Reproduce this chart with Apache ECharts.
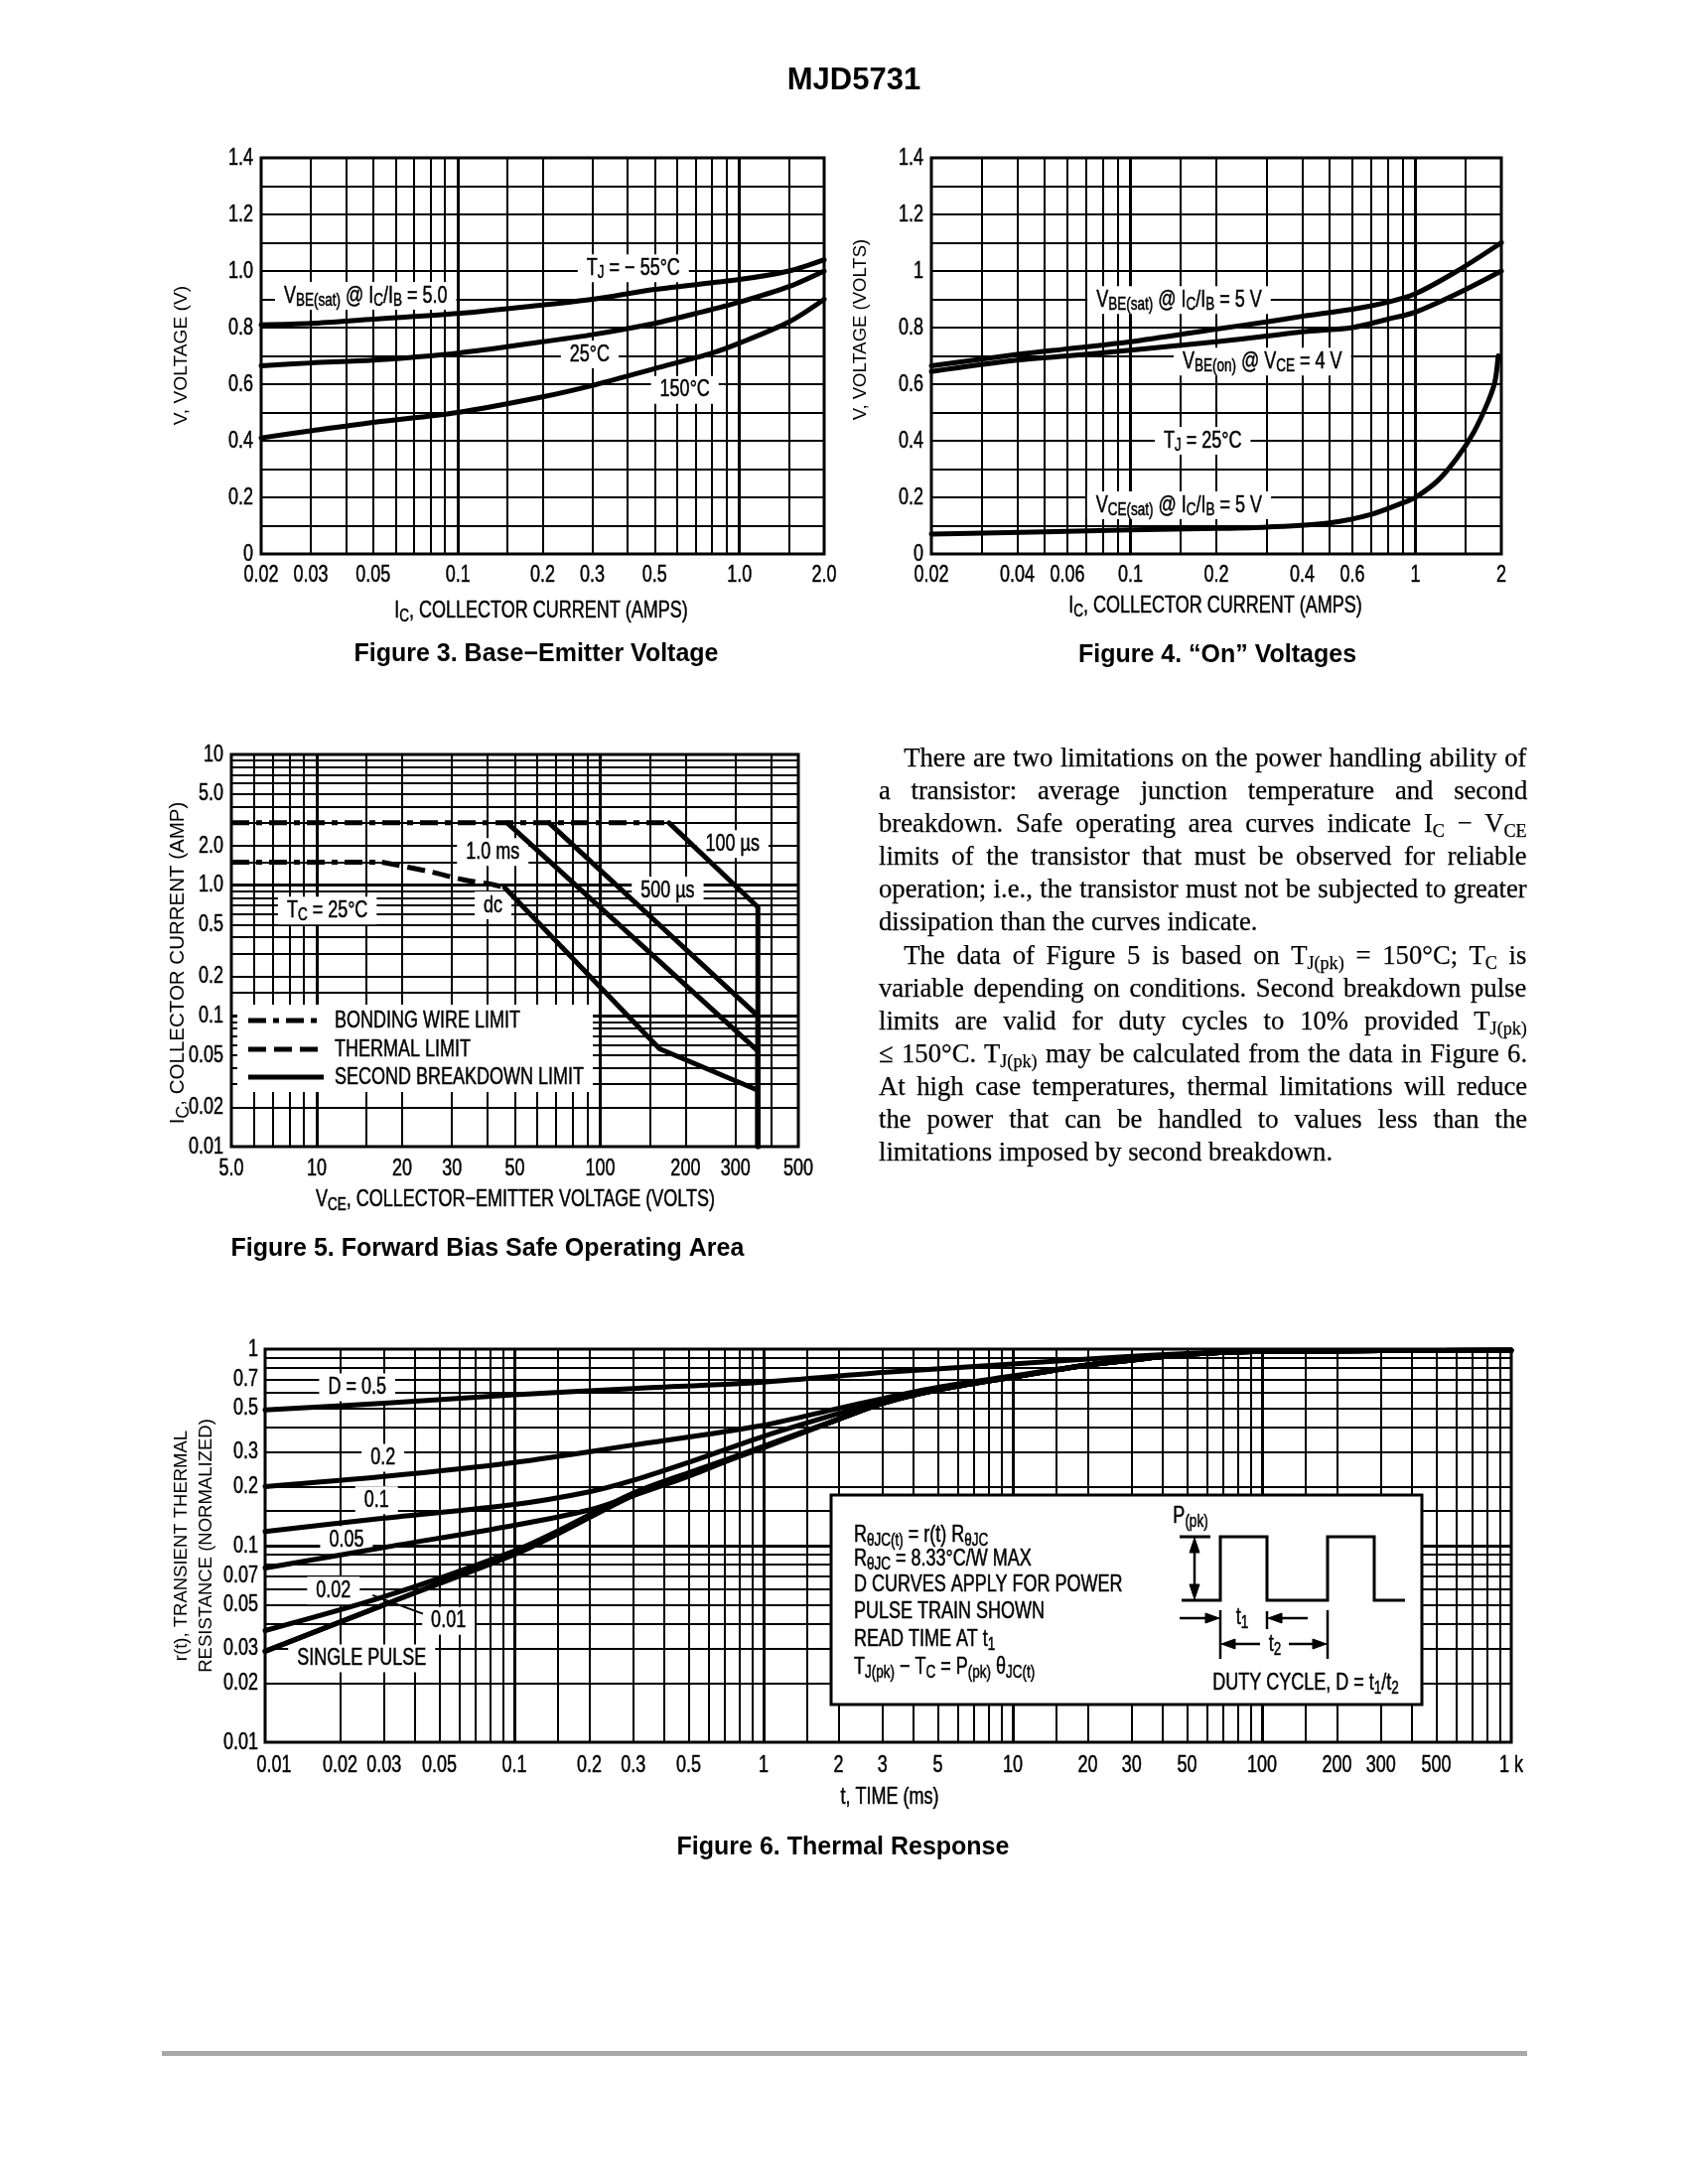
<!DOCTYPE html>
<html>
<head>
<meta charset="utf-8">
<script src="https://cdn.jsdelivr.net/npm/echarts@6/dist/echarts.min.js"></script>
<style>
html,body{margin:0;padding:0;background:#fff;}
#chart{position:absolute;left:0;top:0;width:1700px;height:2200px;}
#para{position:absolute;left:885px;top:746px;width:673px;transform:scaleX(0.97);transform-origin:0 0;
  font-family:'Liberation Serif','Times New Roman',serif;font-size:27.5px;line-height:33.1px;color:#000;
  -webkit-text-stroke:0.25px #000;}
#para .ln{height:33.1px;white-space:nowrap;}
#para .ln span{display:inline-block;white-space:nowrap;}
#para sub{font-size:68%;line-height:0;vertical-align:-0.28em;}
</style>
</head>
<body>
<div id="chart"></div>
<div id="para"></div>
<script>
// ================= DATA =================
// Figure 3 – Base-Emitter Voltage
const fig3XTicks = [0.02, 0.03, 0.05, 0.1, 0.2, 0.3, 0.5, 1.0, 2.0];
const fig3XTickLabels = ['0.02', '0.03', '0.05', '0.1', '0.2', '0.3', '0.5', '1.0', '2.0'];
const fig3YTicks = [0, 0.2, 0.4, 0.6, 0.8, 1.0, 1.2, 1.4];
const fig3YTickLabels = ['0', '0.2', '0.4', '0.6', '0.8', '1.0', '1.2', '1.4'];
const fig3VbeM55 = [[0.02,0.81],[0.03,0.815],[0.05,0.83],[0.1,0.85],[0.2,0.88],[0.3,0.90],[0.5,0.935],[1.0,0.97],[1.5,1.0],[2.0,1.04]];
const fig3Vbe25 = [[0.02,0.665],[0.03,0.675],[0.05,0.685],[0.1,0.71],[0.2,0.75],[0.3,0.775],[0.5,0.815],[0.7,0.85],[1.0,0.89],[1.5,0.945],[2.0,1.0]];
const fig3Vbe150 = [[0.02,0.41],[0.03,0.435],[0.05,0.465],[0.1,0.50],[0.2,0.555],[0.3,0.595],[0.5,0.655],[0.8,0.71],[1.0,0.745],[1.5,0.82],[2.0,0.90]];

// Figure 4 – "On" Voltages
const fig4XTicks = [0.02, 0.04, 0.06, 0.1, 0.2, 0.4, 0.6, 1, 2];
const fig4XTickLabels = ['0.02', '0.04', '0.06', '0.1', '0.2', '0.4', '0.6', '1', '2'];
const fig4YTicks = [0, 0.2, 0.4, 0.6, 0.8, 1.0, 1.2, 1.4];
const fig4YTickLabels = ['0', '0.2', '0.4', '0.6', '0.8', '1', '1.2', '1.4'];
const fig4VbeSat = [[0.02,0.665],[0.04,0.705],[0.06,0.725],[0.1,0.75],[0.2,0.795],[0.3,0.82],[0.4,0.84],[0.6,0.865],[0.8,0.89],[1.0,0.92],[1.4,1.0],[2.0,1.1]];
const fig4VbeOn = [[0.02,0.645],[0.04,0.685],[0.06,0.70],[0.1,0.72],[0.2,0.75],[0.3,0.77],[0.4,0.785],[0.6,0.80],[0.8,0.83],[1.0,0.855],[1.4,0.92],[2.0,1.0]];
const fig4VceSat = [[0.02,0.07],[0.05,0.078],[0.1,0.085],[0.2,0.09],[0.3,0.095],[0.5,0.11],[0.7,0.14],[0.9,0.18],[1.0,0.2],[1.2,0.26],[1.4,0.34],[1.6,0.43],[1.8,0.54],[1.9,0.61],[1.95,0.70]];

// Figure 5 – Forward Bias Safe Operating Area
const fig5XTicks = [5, 10, 20, 30, 50, 100, 200, 300, 500];
const fig5XTickLabels = ['5.0', '10', '20', '30', '50', '100', '200', '300', '500'];
const fig5YTicks = [0.01, 0.02, 0.05, 0.1, 0.2, 0.5, 1, 2, 5, 10];
const fig5YTickLabels = ['0.01', '0.02', '0.05', '0.1', '0.2', '0.5', '1.0', '2.0', '5.0', '10'];
const fig5BondingPulse = [[5,3.0],[175,3.0]];
const fig5BondingDc = [[5,1.5],[17,1.5]];
const fig5ThermalDc = [[17,1.5],[25,1.27],[33,1.1],[41,1.02],[46,0.96]];
const fig5SbDc = [[46,0.96],[162,0.056],[360,0.027],[360,0.01]];
const fig5Sb1ms = [[47,3.0],[360,0.054],[360,0.01]];
const fig5Sb500us = [[66,3.0],[360,0.10],[360,0.01]];
const fig5Sb100us = [[175,3.0],[360,0.68],[360,0.01]];

// Figure 6 – Thermal Response
const fig6XTicks = [0.01,0.02,0.03,0.05,0.1,0.2,0.3,0.5,1,2,3,5,10,20,30,50,100,200,300,500,1000];
const fig6XTickLabels = ['0.01','0.02','0.03','0.05','0.1','0.2','0.3','0.5','1','2','3','5','10','20','30','50','100','200','300','500','1 k'];
const fig6YTicks = [0.01,0.02,0.03,0.05,0.07,0.1,0.2,0.3,0.5,0.7,1];
const fig6YTickLabels = ['0.01','0.02','0.03','0.05','0.07','0.1','0.2','0.3','0.5','0.7','1'];
const fig6D050 = [[0.01,0.49],[0.03,0.53],[0.1,0.585],[0.3,0.63],[1,0.68],[3,0.76],[10,0.84],[30,0.92],[50,0.95],[100,0.975],[300,0.982],[1000,0.985]];
const fig6D020 = [[0.01,0.20],[0.03,0.225],[0.1,0.265],[0.3,0.325],[1,0.41],[2,0.50],[3,0.56],[5,0.64],[10,0.73],[20,0.83],[30,0.88],[50,0.94],[100,0.975],[300,0.982],[1000,0.985]];
const fig6D010 = [[0.01,0.118],[0.03,0.138],[0.1,0.162],[0.2,0.188],[0.3,0.215],[0.5,0.265],[1,0.36],[2,0.47],[3,0.54],[5,0.63],[10,0.72],[20,0.83],[30,0.88],[50,0.94],[100,0.975],[300,0.982],[1000,0.985]];
const fig6D005 = [[0.01,0.077],[0.03,0.098],[0.1,0.127],[0.2,0.152],[0.3,0.18],[0.5,0.225],[1,0.32],[2,0.44],[3,0.53],[5,0.62],[10,0.72],[20,0.83],[30,0.88],[50,0.94],[100,0.975],[300,0.982],[1000,0.985]];
const fig6D002 = [[0.01,0.037],[0.03,0.055],[0.1,0.094],[0.15,0.119],[0.3,0.185],[0.5,0.235],[1,0.32],[2,0.44],[3,0.53],[5,0.62],[10,0.72],[20,0.83],[30,0.88],[50,0.94],[100,0.975],[300,0.982],[1000,0.985]];
const fig6D001 = [[0.01,0.029],[0.03,0.05],[0.1,0.092],[0.15,0.117],[0.3,0.182],[0.5,0.232],[1,0.318],[2,0.44],[3,0.53],[5,0.62],[10,0.72],[20,0.83],[30,0.88],[50,0.94],[100,0.975],[300,0.982],[1000,0.985]];
const fig6Single = [[0.01,0.029],[0.03,0.05],[0.1,0.09],[0.15,0.115],[0.3,0.18],[0.5,0.23],[1,0.315],[2,0.44],[3,0.53],[5,0.62],[10,0.72],[20,0.83],[30,0.88],[50,0.94],[100,0.975],[300,0.982],[1000,0.985]];
const fig6Leader = [[0.027,0.056],[0.043,0.045]];

// Curve annotations (anchor in data units, text)
const fig3Notes = [
  {x:0.047, y:0.912, t:'V{s|BE(sat)} @ I{s|C}/I{s|B} = 5.0'},
  {x:0.42, y:1.01, t:'T{s|J} = − 55°C'},
  {x:0.294, y:0.705, t:'25°C'},
  {x:0.64, y:0.58, t:'150°C'}
];
const fig4Notes = [
  {x:0.148, y:0.897, t:'V{s|BE(sat)} @ I{s|C}/I{s|B} = 5 V'},
  {x:0.29, y:0.68, t:'V{s|BE(on)} @ V{s|CE} = 4 V'},
  {x:0.179, y:0.40, t:'T{s|J} = 25°C'},
  {x:0.148, y:0.172, t:'V{s|CE(sat)} @ I{s|C}/I{s|B} = 5 V'}
];
const fig5Notes = [
  {x:10.9, y:0.64, t:'T{s|C} = 25°C'},
  {x:41.9, y:0.70, t:'dc'},
  {x:41.8, y:1.79, t:'1.0 ms'},
  {x:173, y:0.91, t:'500 µs'},
  {x:293, y:2.06, t:'100 µs'}
];
const fig6Notes = [
  {x:0.0234, y:0.64, t:'D = 0.5'},
  {x:0.0297, y:0.28, t:'0.2'},
  {x:0.028, y:0.17, t:'0.1'},
  {x:0.0212, y:0.107, t:'0.05'},
  {x:0.0188, y:0.059, t:'0.02'},
  {x:0.0544, y:0.0415, t:'0.01'},
  {x:0.0244, y:0.0267, t:'SINGLE PULSE'}
];

const paragraphLines = [
  {indent:true, html:'There are two limitations on the power handling ability of'},
  {html:'a transistor: average junction temperature and second'},
  {html:'breakdown. Safe operating area curves indicate I<sub>C</sub> − V<sub>CE</sub>'},
  {html:'limits of the transistor that must be observed for reliable'},
  {html:'operation; i.e., the transistor must not be subjected to greater'},
  {last:true, html:'dissipation than the curves indicate.'},
  {indent:true, html:'The data of Figure 5 is based on T<sub>J(pk)</sub> = 150°C; T<sub>C</sub> is'},
  {html:'variable depending on conditions. Second breakdown pulse'},
  {html:'limits are valid for duty cycles to 10% provided T<sub>J(pk)</sub>'},
  {html:'≤ 150°C. T<sub>J(pk)</sub> may be calculated from the data in Figure 6.'},
  {html:'At high case temperatures, thermal limitations will reduce'},
  {html:'the power that can be handled to values less than the'},
  {last:true, html:'limitations imposed by second breakdown.'}
];

// ================= PARAGRAPH =================
(function(){
  const box = document.getElementById('para');
  const W = 673, IND = 26;
  paragraphLines.forEach(l => {
    const d = document.createElement('div');
    d.className = 'ln';
    if (l.indent) d.style.paddingLeft = IND + 'px';
    const s = document.createElement('span');
    s.innerHTML = l.html;
    d.appendChild(s);
    box.appendChild(d);
    const w = s.offsetWidth;
    const target = W - (l.indent ? IND : 0);
    const n = (s.textContent.match(/ /g) || []).length;
    if (n > 0 && (!l.last || w > target)) s.style.wordSpacing = ((target - w) / n) + 'px';
  });
})();

// ================= CHART =================
const SANS = "'Liberation Sans',Arial,Helvetica,sans-serif";
const SX = 0.75;            // horizontal squeeze => narrow sans look
const FS = 24;              // narrow text size
const BLACK = '#000';

const GRIDS = [
  {left:263, top:159, width:567, height:399},
  {left:938, top:159, width:574, height:399},
  {left:233, top:760, width:571, height:395},
  {left:267, top:1359, width:1255, height:396}
];

const MULTS = [1, 1.5, 2, 3, 4, 5, 6, 7, 8, 9];
function logLines(min, max) {
  const out = [];
  for (let e = -3; e <= 4; e++) {
    for (const m of MULTS) {
      const v = +(m * Math.pow(10, e)).toPrecision(6);
      if (v > min * 1.0001 && v < max * 0.9999) out.push({v, major: m === 1});
    }
  }
  return out;
}

function gridSeries(gi, xs, ys, x0, y0) {
  const data = [];
  xs.forEach(o => data.push({xAxis: o.v, lineStyle: {width: o.major ? 3 : 2}}));
  ys.forEach(o => data.push({yAxis: o.v, lineStyle: {width: o.major ? 3 : 2}}));
  return {
    type: 'line', xAxisIndex: gi, yAxisIndex: gi, data: [[x0, y0]], symbol: 'none',
    lineStyle: {width: 0, opacity: 0}, silent: true, animation: false, z: 1,
    markLine: {
      silent: true, z: 1, animation: false, symbol: ['none', 'none'],
      label: {show: false}, emphasis: {disabled: true},
      lineStyle: {color: BLACK, width: 2, type: 'solid', opacity: 1},
      data
    }
  };
}

const RICH = {
  s: {fontSize: 18, fontFamily: SANS, fill: BLACK, color: BLACK, verticalAlign: 'bottom', lineHeight: 18}
};

// text placed through the axis scales (api.coord), squeezed horizontally
function textSeries(gi, items, o) {
  o = o || {};
  return {
    type: 'custom', xAxisIndex: gi, yAxisIndex: gi, silent: true, animation: false, clip: false, z: o.z || 6,
    data: items.map(it => [it.x, it.y]),
    renderItem: function (params, api) {
      const it = items[params.dataIndex];
      const p = api.coord([api.value(0), api.value(1)]);
      const al = o.align || 'center', va = o.valign || 'middle';
      const extra = (params.dataIndex === 0 && o.firstDx) ? o.firstDx : 0;
      return {
        type: 'text', x: p[0] + (o.dx || 0) + extra, y: p[1] + (o.dy || 0), scaleX: SX, silent: true, z2: 10,
        style: {
          text: it.t, fill: BLACK, stroke: BLACK, lineWidth: 0.5, fontSize: FS, fontFamily: SANS,
          align: al, textAlign: al, verticalAlign: va, textVerticalAlign: va,
          backgroundColor: o.bg || null, padding: o.pad || 0, lineHeight: o.lh || 26, rich: RICH
        }
      };
    }
  };
}
const ticks = (xs, labels, fixed, dir) => xs.map((v, i) => dir === 'x' ? {x: v, y: fixed, t: labels[i]} : {x: fixed, y: v, t: labels[i]});
const notes = arr => arr.map(n => ({x: n.x, y: n.y, t: n.t}));

function curve(gi, name, data, extra) {
  return Object.assign({
    type: 'line', name, xAxisIndex: gi, yAxisIndex: gi, data, symbol: 'none', showSymbol: false,
    smooth: 0.3, silent: true, animation: false, z: 5,
    lineStyle: {color: BLACK, width: 5, cap: 'round', join: 'round'}
  }, extra || {});
}

function logAxis(gi, min, max) {
  return {type: 'log', logBase: 10, gridIndex: gi, min, max,
    axisLine: {show: false}, axisTick: {show: false}, axisLabel: {show: false},
    splitLine: {show: false}, minorTick: {show: false}, minorSplitLine: {show: false}};
}
function linAxis(gi) {
  return {type: 'value', gridIndex: gi, min: 0, max: 1.4, interval: 0.1,
    axisLine: {show: false}, axisTick: {show: false}, axisLabel: {show: false},
    splitLine: {show: true, lineStyle: {color: BLACK, width: 2}}};
}

// ---------- graphics helpers ----------
function txt(x, y, text, o) {
  o = o || {};
  const al = o.align || 'center';
  const narrow = !!o.narrow;
  const sx = narrow ? SX : 1;
  return {type: 'text', x, y, z: 50, silent: true, rotation: o.rot || 0,
    scaleX: o.rot ? 1 : sx, scaleY: o.rot ? sx : 1,
    style: {text, fontSize: o.size || FS, fontFamily: SANS, fontWeight: o.weight || 'normal',
      fill: BLACK, stroke: narrow ? BLACK : null, lineWidth: narrow ? 0.5 : 0,
      textAlign: al, align: al,
      textVerticalAlign: 'middle', verticalAlign: 'middle', lineHeight: o.lh || 30, rich: RICH}};
}
function seg(x1, y1, x2, y2, w, dash) {
  return {type: 'line', z: 50, silent: true, shape: {x1, y1, x2, y2},
    style: {stroke: BLACK, lineWidth: w || 3, lineDash: dash || null, lineCap: 'butt'}};
}
function tri(pts) {
  return {type: 'polygon', z: 50, silent: true, shape: {points: pts}, style: {fill: BLACK, stroke: BLACK, lineWidth: 1}};
}
const N = {narrow: true};
const NL = {narrow: true, align: 'left'};

const graphics = [
  txt(860, 81, 'MJD5731', {size: 31, weight: 'bold'}),
  // Fig 3 labels
  txt(183, 358, 'V, VOLTAGE (V)', {size: 19.2, rot: Math.PI / 2}),
  txt(545, 615, 'I{s|C}, COLLECTOR CURRENT (AMPS)', N),
  txt(540, 659, 'Figure 3. Base−Emitter Voltage', {size: 25, weight: 'bold'}),
  // Fig 4 labels
  txt(867, 332, 'V, VOLTAGE (VOLTS)', {size: 18.5, rot: Math.PI / 2}),
  txt(1224, 610, 'I{s|C}, COLLECTOR CURRENT (AMPS)', N),
  txt(1226, 660, 'Figure 4. “On” Voltages', {size: 25, weight: 'bold'}),
  // Fig 5 labels
  txt(179, 970, 'I{s|C}, COLLECTOR CURRENT (AMP)', {size: 20.5, rot: Math.PI / 2}),
  txt(519, 1208, 'V{s|CE}, COLLECTOR−EMITTER VOLTAGE (VOLTS)', N),
  txt(491, 1258, 'Figure 5. Forward Bias Safe Operating Area', {size: 25, weight: 'bold'}),
  // Fig 5 legend
  {type: 'rect', z: 49, silent: true, shape: {x: 239, y: 1012, width: 358, height: 88}, style: {fill: '#fff', stroke: null}},
  seg(250, 1028, 326, 1028, 5, [18, 7, 6, 7]),
  seg(250, 1057, 326, 1057, 5, [18, 8]),
  seg(250, 1085, 326, 1085, 5, null),
  txt(337, 1028, 'BONDING WIRE LIMIT', NL),
  txt(337, 1057, 'THERMAL LIMIT', NL),
  txt(337, 1085, 'SECOND BREAKDOWN LIMIT', NL),
  // Fig 6 labels
  txt(183, 1557, 'r(t), TRANSIENT THERMAL', {size: 18.5, rot: Math.PI / 2}),
  txt(208, 1557, 'RESISTANCE (NORMALIZED)', {size: 18.5, rot: Math.PI / 2}),
  txt(896, 1810, 't, TIME (ms)', N),
  txt(849, 1861, 'Figure 6. Thermal Response', {size: 25, weight: 'bold'}),
  // Fig 6 info box
  {type: 'rect', z: 49, silent: true, shape: {x: 837, y: 1506, width: 595, height: 211}, style: {fill: '#fff', stroke: BLACK, lineWidth: 3}},
  txt(860, 1546, 'R{s|θJC(t)} = r(t) R{s|θJC}', NL),
  txt(860, 1570, 'R{s|θJC} = 8.33°C/W MAX', NL),
  txt(860, 1596, 'D CURVES APPLY FOR POWER', NL),
  txt(860, 1623, 'PULSE TRAIN SHOWN', NL),
  txt(860, 1651, 'READ TIME AT t{s|1}', NL),
  txt(860, 1679, 'T{s|J(pk)} − T{s|C} = P{s|(pk)} θ{s|JC(t)}', NL),
  txt(1199, 1527, 'P{s|(pk)}', N),
  // pulse train
  {type: 'polyline', z: 50, silent: true, shape: {points: [[1190,1612],[1229,1612],[1229,1548],[1276,1548],[1276,1612],[1337,1612],[1337,1548],[1384,1548],[1384,1612],[1415,1612]]},
    style: {stroke: BLACK, lineWidth: 3, fill: null}},
  seg(1188, 1548, 1219, 1548, 3),
  seg(1203, 1560, 1203, 1600, 2.5),
  tri([[1203,1549],[1198,1564],[1208,1564]]),
  tri([[1203,1611],[1198,1596],[1208,1596]]),
  // t1 arrows
  seg(1188, 1630, 1217, 1630, 2.5),
  tri([[1228,1630],[1214,1625],[1214,1635]]),
  seg(1289, 1630, 1317, 1630, 2.5),
  tri([[1277,1630],[1291,1625],[1291,1635]]),
  seg(1276, 1623, 1276, 1641, 2.5),
  txt(1251, 1629, 't{s|1}', N),
  seg(1229, 1622, 1229, 1671, 2.5),
  seg(1337, 1622, 1337, 1671, 2.5),
  // t2 arrows
  seg(1241, 1656, 1269, 1656, 2.5),
  tri([[1230,1656],[1244,1651],[1244,1661]]),
  seg(1298, 1656, 1325, 1656, 2.5),
  tri([[1336,1656],[1322,1651],[1322,1661]]),
  txt(1284, 1656, 't{s|2}', N),
  txt(1315, 1695, 'DUTY CYCLE, D = t{s|1}/t{s|2}', N),
  // bottom rule
  {type: 'rect', z: 50, silent: true, shape: {x: 163, y: 2066, width: 1375, height: 5}, style: {fill: '#a9a9a9', stroke: null}}
];

const NOTE = {align: 'center', valign: 'middle', bg: '#fff', pad: [0, 12], lh: 28, z: 3};

const series = [
  // grid lines
  gridSeries(0, logLines(0.02, 2), [], 0.02, 0),
  gridSeries(1, logLines(0.02, 2), [], 0.02, 0),
  gridSeries(2, logLines(5, 500), logLines(0.01, 10), 5, 0.01),
  gridSeries(3, logLines(0.01, 1000), logLines(0.01, 1), 0.01, 0.01),
  // tick labels
  textSeries(0, ticks(fig3XTicks, fig3XTickLabels, 0, 'x'), {valign: 'top', dy: 8}),
  textSeries(0, ticks(fig3YTicks, fig3YTickLabels, 0.02, 'y'), {align: 'right', dx: -8}),
  textSeries(1, ticks(fig4XTicks, fig4XTickLabels, 0, 'x'), {valign: 'top', dy: 8}),
  textSeries(1, ticks(fig4YTicks, fig4YTickLabels, 0.02, 'y'), {align: 'right', dx: -8}),
  textSeries(2, ticks(fig5XTicks, fig5XTickLabels, 0.01, 'x'), {valign: 'top', dy: 9}),
  textSeries(2, ticks(fig5YTicks, fig5YTickLabels, 5, 'y'), {align: 'right', dx: -8}),
  textSeries(3, ticks(fig6XTicks, fig6XTickLabels, 0.01, 'x'), {valign: 'top', dy: 10, firstDx: 9}),
  textSeries(3, ticks(fig6YTicks, fig6YTickLabels, 0.01, 'y'), {align: 'right', dx: -7}),
  // annotations
  textSeries(0, notes(fig3Notes), NOTE),
  textSeries(1, notes(fig4Notes), NOTE),
  textSeries(2, notes(fig5Notes), NOTE),
  textSeries(3, notes(fig6Notes), NOTE),
  // Figure 3 curves
  curve(0, 'TJ = −55°C', fig3VbeM55),
  curve(0, 'TJ = 25°C', fig3Vbe25),
  curve(0, 'TJ = 150°C', fig3Vbe150),
  // Figure 4 curves
  curve(1, 'VBE(sat) @ IC/IB = 5 V', fig4VbeSat),
  curve(1, 'VBE(on) @ VCE = 4 V', fig4VbeOn),
  curve(1, 'VCE(sat) @ IC/IB = 5 V', fig4VceSat),
  // Figure 5 curves
  curve(2, 'BONDING WIRE LIMIT', fig5BondingPulse, {smooth: false, lineStyle: {color: BLACK, width: 5, type: [18, 7, 6, 7], cap: 'butt'}}),
  curve(2, 'BONDING WIRE LIMIT', fig5BondingDc, {smooth: false, lineStyle: {color: BLACK, width: 5, type: [18, 7, 6, 7], cap: 'butt'}}),
  curve(2, 'THERMAL LIMIT', fig5ThermalDc, {smooth: 0.3, lineStyle: {color: BLACK, width: 5, type: [18, 8], cap: 'butt'}}),
  curve(2, 'SECOND BREAKDOWN LIMIT', fig5SbDc, {smooth: false}),
  curve(2, 'SECOND BREAKDOWN LIMIT', fig5Sb1ms, {smooth: false}),
  curve(2, 'SECOND BREAKDOWN LIMIT', fig5Sb500us, {smooth: false}),
  curve(2, 'SECOND BREAKDOWN LIMIT', fig5Sb100us, {smooth: false}),
  // Figure 6 curves
  curve(3, 'D = 0.5', fig6D050),
  curve(3, 'D = 0.2', fig6D020),
  curve(3, 'D = 0.1', fig6D010),
  curve(3, 'D = 0.05', fig6D005),
  curve(3, 'D = 0.02', fig6D002),
  curve(3, 'D = 0.01', fig6D001),
  curve(3, 'SINGLE PULSE', fig6Single),
  curve(3, 'leader 0.01', fig6Leader, {smooth: false, lineStyle: {color: BLACK, width: 2}})
];

const chart = echarts.init(document.getElementById('chart'), null, {width: 1700, height: 2200, renderer: 'canvas'});
chart.setOption({
  animation: false,
  backgroundColor: '#fff',
  grid: GRIDS.map(g => Object.assign({show: true, borderColor: BLACK, borderWidth: 3, backgroundColor: 'transparent',
    containLabel: false, outerBoundsMode: 'none'}, g)),
  xAxis: [logAxis(0, 0.02, 2), logAxis(1, 0.02, 2), logAxis(2, 5, 500), logAxis(3, 0.01, 1000)],
  yAxis: [linAxis(0), linAxis(1), logAxis(2, 0.01, 10), logAxis(3, 0.01, 1)],
  series,
  graphic: {elements: graphics}
});
</script>
</body>
</html>
